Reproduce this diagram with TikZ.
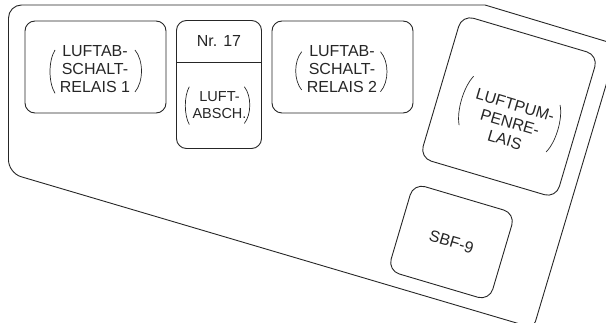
\documentclass[tikz,border=0pt]{standalone}
\usepackage{fontspec}
\setmainfont{Liberation Sans}
\tikzset{
  box/.style={draw=black!85, line width=0.9pt, rounded corners=10pt, inner sep=0pt},
  rbox/.style={draw=black!85, line width=0.9pt, rounded corners=12pt, inner sep=0pt, rotate=-16.5},
  lbl/.style={text=black!85, align=center, inner sep=0pt, font=\fontsize{16}{18.3}\selectfont},
  slbl/.style={text=black!85, align=center, inner sep=0pt, font=\fontsize{14.5}{16.7}\selectfont},
  paren/.style={draw=black!85, line width=0.7pt},
}
\newcommand\myparen[4]{\draw[paren] (#1,#2) .. controls ({#1+1.33*(#4)},{#2+0.25*(#3-#2)}) and ({#1+1.33*(#4)},{#2+0.75*(#3-#2)}) .. (#1,#3);}
\begin{document}
\begin{tikzpicture}[x=1pt,y=-1pt]
\useasboundingbox (0,0) rectangle (606,323);
\clip (0,0) rectangle (606,323);
% outer outline
\draw[black!85, line width=0.9pt] (300,5) [rounded corners=13pt] -- (8.5,5) -- (8.5,173) [rounded corners=7pt] -- (533.5,328) [sharp corners] -- (618,45) -- (485,5) -- cycle;
% relay 1
\node[box, minimum width=141pt, minimum height=92pt] (r1) at (95.5,67) {};
\node[lbl] (t1) at (95,69.2) {LUFTAB-\\SCHALT-\\RELAIS 1};
\myparen{55}{50}{93.3}{-5}
\myparen{135}{50}{92}{6.5}
% Nr. 17
\node[box, minimum width=85pt, minimum height=128pt] (n17) at (219,84.5) {};
\coordinate (dv) at (0,62.3);
\draw[black!85, line width=0.9pt] (n17.west |- dv) -- (n17.east |- dv);
\node[lbl] (tn) at (219,41) {Nr. 17};
\node[slbl] (tl) at (219.5,104.8) {LUFT-\\ABSCH.};
\myparen{189.3}{86.7}{124.5}{-4}
\myparen{244.3}{86.7}{123.5}{5.5}
% relay 2
\node[box, minimum width=141pt, minimum height=92pt] (r2) at (342.5,67) {};
\node[lbl] (t2) at (342,69.2) {LUFTAB-\\SCHALT-\\RELAIS 2};
\myparen{301.7}{51.7}{90}{-6}
\myparen{380.5}{51.7}{91.7}{6.5}
% air pump relay (rotated)
\node[rbox, minimum width=142pt, minimum height=149pt] (lp) at (509,106.5) {};
\node[lbl, rotate=-16.5] (tp) at (510,122.5) {LUFTPUM-\\PENRE-\\LAIS};
\begin{scope}[shift={(510,122.5)}, rotate=-16.5]
  \myparen{-48}{-34}{17}{-5}
  \myparen{43}{-31}{18}{5}
\end{scope}
% SBF-9
\node[rbox, minimum width=106pt, minimum height=91pt] (sbf) at (451.5,242) {};
\node[lbl, rotate=-16.5] (ts) at (451.5,242) {SBF-9};
\end{tikzpicture}
\end{document}
